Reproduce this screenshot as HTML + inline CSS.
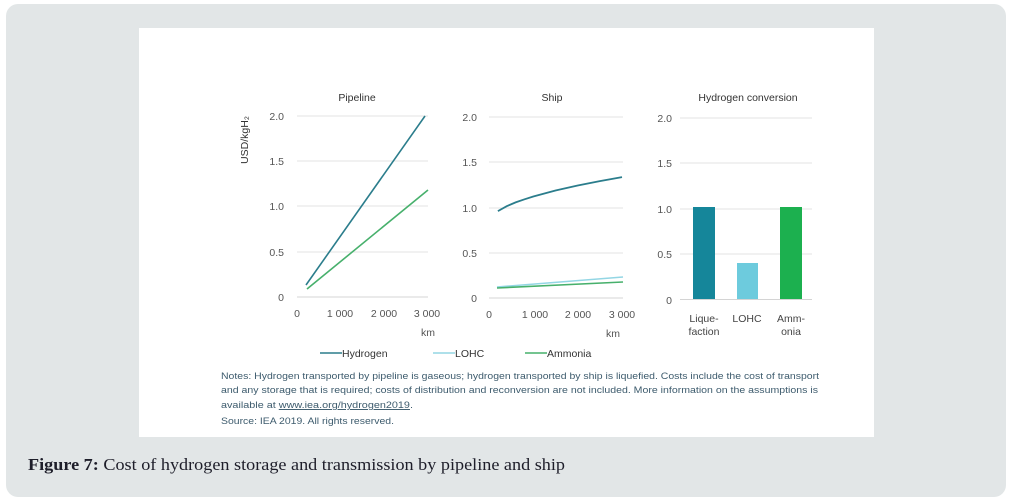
<!DOCTYPE html>
<html>
<head>
<meta charset="utf-8">
<style>
  html,body{margin:0;padding:0;background:#ffffff;}
  body{width:1012px;height:503px;overflow:hidden;position:relative;}
  svg{position:absolute;left:0;top:0;}
</style>
</head>
<body>
<svg width="1012" height="503" viewBox="0 0 1012 503" xmlns="http://www.w3.org/2000/svg">
  <!-- outer panel -->
  <rect x="6" y="4" width="1000" height="493" rx="12" ry="12" fill="#e2e6e7"/>
  <!-- inner white figure -->
  <rect x="139" y="28" width="735" height="409" fill="#ffffff"/>

  <g font-family="Liberation Sans, sans-serif">
    <!-- Titles -->
    <text x="357" y="101" font-size="10.5" fill="#333" text-anchor="middle">Pipeline</text>
    <text x="552" y="101" font-size="10.5" fill="#333" text-anchor="middle">Ship</text>
    <text x="748" y="101" font-size="10.5" fill="#333" text-anchor="middle">Hydrogen conversion</text>

    <!-- Y axis label -->
    <text transform="translate(248,140) rotate(-90)" font-size="10.5" fill="#333" text-anchor="middle">USD/kgH₂</text>

    <!-- Pipeline grid -->
    <g stroke="#e3e3e3" stroke-width="1">
      <line x1="297" y1="116" x2="428" y2="116"/>
      <line x1="297" y1="161" x2="428" y2="161"/>
      <line x1="297" y1="206" x2="428" y2="206"/>
      <line x1="297" y1="252" x2="428" y2="252"/>
    </g>
    <line x1="297" y1="297" x2="428" y2="297" stroke="#d4d4d4" stroke-width="1"/>
    <g font-size="10.5" fill="#555" text-anchor="end">
      <text x="284" y="120">2.0</text>
      <text x="284" y="165">1.5</text>
      <text x="284" y="210">1.0</text>
      <text x="284" y="256">0.5</text>
      <text x="284" y="301">0</text>
    </g>
    <g font-size="10.5" fill="#555" text-anchor="middle">
      <text x="297" y="317">0</text>
      <text x="340" y="317">1 000</text>
      <text x="384" y="317">2 000</text>
      <text x="427" y="317">3 000</text>
      <text x="428" y="336">km</text>
    </g>
    <line x1="306" y1="285" x2="425" y2="116" stroke="#2b7d8c" stroke-width="1.6"/>
    <line x1="307" y1="289" x2="428" y2="190" stroke="#47b06c" stroke-width="1.6"/>

    <!-- Ship grid -->
    <g stroke="#e3e3e3" stroke-width="1">
      <line x1="489" y1="117" x2="623" y2="117"/>
      <line x1="489" y1="162" x2="623" y2="162"/>
      <line x1="489" y1="208" x2="623" y2="208"/>
      <line x1="489" y1="253" x2="623" y2="253"/>
    </g>
    <line x1="489" y1="298" x2="623" y2="298" stroke="#d4d4d4" stroke-width="1"/>
    <g font-size="10.5" fill="#555" text-anchor="end">
      <text x="477" y="121">2.0</text>
      <text x="477" y="166">1.5</text>
      <text x="477" y="212">1.0</text>
      <text x="477" y="257">0.5</text>
      <text x="477" y="302">0</text>
    </g>
    <g font-size="10.5" fill="#555" text-anchor="middle">
      <text x="489" y="318">0</text>
      <text x="535" y="318">1 000</text>
      <text x="578" y="318">2 000</text>
      <text x="622" y="318">3 000</text>
      <text x="613" y="337">km</text>
    </g>
    <polyline points="497.9,211.1 506.7,206.2 515.6,202.4 524.5,199.3 533.3,196.5 555.5,190.5 577.7,185.5 599.8,181.1 622,177.1"
      fill="none" stroke="#2b7d8c" stroke-width="1.8"/>
    <line x1="497" y1="287" x2="623" y2="277" stroke="#93d6e4" stroke-width="1.6"/>
    <line x1="497" y1="288" x2="623" y2="282" stroke="#47b06c" stroke-width="1.6"/>

    <!-- Conversion grid -->
    <g stroke="#e3e3e3" stroke-width="1">
      <line x1="680" y1="118" x2="812" y2="118"/>
      <line x1="680" y1="163" x2="812" y2="163"/>
      <line x1="680" y1="209" x2="812" y2="209"/>
      <line x1="680" y1="254" x2="812" y2="254"/>
    </g>
    <g font-size="10.5" fill="#555" text-anchor="end">
      <text x="672" y="122">2.0</text>
      <text x="672" y="167">1.5</text>
      <text x="672" y="213">1.0</text>
      <text x="672" y="258">0.5</text>
      <text x="672" y="304">0</text>
    </g>
    <rect x="693" y="207" width="22" height="92" fill="#15869a"/>
    <rect x="737" y="263" width="21" height="36" fill="#6dcbdd"/>
    <rect x="780" y="207" width="22" height="92" fill="#1cb04f"/>
    <line x1="680" y1="299.5" x2="812" y2="299.5" stroke="#d4d4d4" stroke-width="1"/>
    <g font-size="10.5" fill="#444" text-anchor="middle">
      <text x="704" y="322">Lique-</text>
      <text x="704" y="335">faction</text>
      <text x="747" y="322">LOHC</text>
      <text x="791" y="322">Amm-</text>
      <text x="791" y="335">onia</text>
    </g>

    <!-- Legend -->
    <line x1="320" y1="353" x2="342" y2="353" stroke="#2b7d8c" stroke-width="1.6"/>
    <text x="342" y="357" font-size="10.5" fill="#333">Hydrogen</text>
    <line x1="433" y1="353" x2="455" y2="353" stroke="#93d6e4" stroke-width="1.6"/>
    <text x="455" y="357" font-size="10.5" fill="#333">LOHC</text>
    <line x1="525" y1="353" x2="547" y2="353" stroke="#47b06c" stroke-width="1.6"/>
    <text x="547" y="357" font-size="10.5" fill="#333">Ammonia</text>

    <!-- Notes -->
    <g font-size="9.6" fill="#3d5b6d">
      <text x="221" y="379" textLength="598" lengthAdjust="spacingAndGlyphs">Notes: Hydrogen transported by pipeline is gaseous; hydrogen transported by ship is liquefied. Costs include the cost of transport</text>
      <text x="221" y="393" textLength="597" lengthAdjust="spacingAndGlyphs">and any storage that is required; costs of distribution and reconversion are not included. More information on the assumptions is</text>
      <text x="221" y="408" textLength="192" lengthAdjust="spacingAndGlyphs">available at <tspan text-decoration="underline">www.iea.org/hydrogen2019</tspan>.</text>
      <text x="221" y="424" textLength="173" lengthAdjust="spacingAndGlyphs">Source: IEA 2019. All rights reserved.</text>
    </g>
  </g>

  <!-- Caption -->
  <text x="28" y="470" font-family="Liberation Serif, serif" font-size="16.5" fill="#1e1e2a" textLength="537" lengthAdjust="spacingAndGlyphs"><tspan font-weight="bold">Figure 7:</tspan> Cost of hydrogen storage and transmission by pipeline and ship</text>
</svg>
</body>
</html>
